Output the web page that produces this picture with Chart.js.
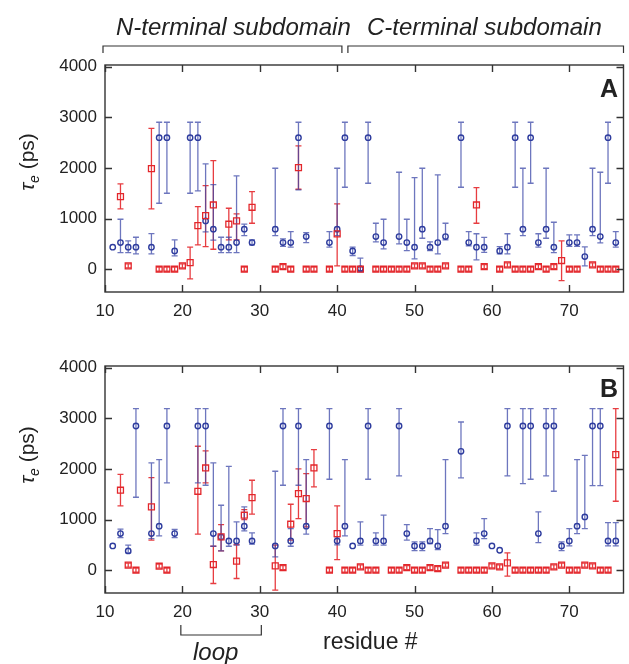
<!DOCTYPE html>
<html>
<head>
<meta charset="utf-8">
<script src="https://cdn.jsdelivr.net/npm/chart.js@4.4.0/dist/chart.umd.min.js"></script>
<style>
  body { margin: 0; background: #fff; }
  #wrap { position: relative; width: 629px; height: 664px; font-family: "Liberation Sans", Arial, sans-serif; color: #222; }
  .box { position: absolute; left: 0; width: 629px; }
  .lbl { position: absolute; white-space: nowrap; line-height: 1; }
  .ytitle { font-size: 21px; transform: translate(-50%, -50%) rotate(-90deg); }
  .ytitle sub { font-size: 14px; font-style: italic; vertical-align: -5px; }
  .panel { font-size: 25px; font-weight: bold; }
</style>
</head>
<body>
<div id="wrap">
  <div class="box" style="top:0;height:330px"><canvas id="chartA"></canvas></div>
  <div class="box" style="top:330px;height:334px"><canvas id="chartB"></canvas></div>

  <div class="lbl" style="left:116px;top:15px;font-size:24px;font-style:italic">N-terminal subdomain</div>
  <div class="lbl" style="left:367px;top:15px;font-size:24px;font-style:italic">C-terminal subdomain</div>
  <div class="lbl ytitle" style="left:28px;top:162px"><i>τ</i><sub>e</sub> (ps)</div>
  <div class="lbl ytitle" style="left:28px;top:455px"><i>τ</i><sub>e</sub> (ps)</div>
  <div class="lbl panel" style="left:600px;top:76px">A</div>
  <div class="lbl panel" style="left:600px;top:376px">B</div>
  <div class="lbl" style="left:193px;top:640px;font-size:24px;font-style:italic">loop</div>
  <div class="lbl" style="left:323px;top:630px;font-size:23px">residue #</div>
</div>

<script>
// axis ticks
const xTicks = [10, 20, 30, 40, 50, 60, 70];
const yTicks = [0, 1000, 2000, 3000, 4000];

// residue ranges of the annotations
const nDomain = [10, 41];
const cDomain = [41, 77];
const loopRange = [19.8, 30.2];

// panel A, blue circles
const aBlueRes = [11, 12, 13, 14, 16, 17, 18, 19, 21, 22, 23, 24, 25, 26, 27, 28, 29, 32, 33, 34, 35, 36, 39, 40, 41, 42, 43, 44, 45, 46, 48, 49, 50, 51, 52, 53, 54, 56, 57, 58, 59, 61, 62, 63, 64, 65, 66, 67, 68, 70, 71, 72, 73, 74, 75, 76];
const aBlueVal = [434, 525, 434, 434, 434, 2596, 2596, 361, 2596, 2596, 953, 789, 434, 434, 525, 789, 525, 789, 525, 525, 2596, 643, 525, 789, 2596, 361, 13, 2596, 643, 525, 643, 525, 434, 789, 434, 525, 643, 2596, 525, 434, 434, 361, 434, 2596, 789, 2596, 525, 789, 434, 525, 525, 249, 789, 643, 2596, 525];
const aBlueLo  = [434, 327, 327, 302, 302, 1302, 1499, 262, 1499, 1544, 736, 572, 327, 327, 327, 663, 480, 663, 450, 437, 1564, 525, 437, 663, 1617, 270, -50, 1696, 538, 400, 499, 367, 203, 611, 368, 302, 578, 1617, 460, 184, 334, 302, 302, 1617, 663, 1696, 437, 611, 327, 450, 450, 65, 663, 518, 1696, 437];
const aBlueHi  = [434, 986, 558, 631, 703, 2900, 2900, 578, 2900, 2900, 2077, 1669, 631, 631, 1840, 888, 580, 1992, 600, 742, 2900, 723, 742, 1992, 2900, 437, 217, 2900, 907, 986, 1913, 986, 1807, 1992, 538, 1860, 907, 2900, 742, 700, 630, 447, 700, 2900, 1992, 2900, 700, 1992, 927, 676, 676, 441, 1992, 1913, 2900, 742];

// panel A, red squares
const aRedRes = [12, 13, 16, 17, 18, 19, 20, 21, 22, 23, 24, 26, 27, 28, 29, 32, 33, 34, 35, 36, 37, 39, 40, 41, 42, 43, 45, 46, 47, 48, 49, 50, 51, 52, 53, 54, 56, 57, 58, 59, 61, 62, 63, 64, 65, 66, 67, 68, 69, 70, 71, 73, 74, 75, 76];
const aRedVal = [1432, 65, 1984, 0, 0, 0, 65, 131, 861, 1058, 1268, 888, 953, 0, 1222, 0, 52, 0, 2004, 0, 0, 0, 696, 0, 0, 0, 0, 0, 0, 0, 0, 65, 65, 0, 0, 65, 0, 0, 1268, 52, 0, 85, 0, 0, 0, 52, 0, 52, 171, 0, 0, 85, 0, 0, 0];
const aRedLo  = [1189, 25, 1189, -40, -40, -40, 25, -191, 480, 447, 394, 578, 578, -40, 907, -40, 12, -40, 1578, -40, -40, -40, 65, -40, -40, -40, -40, -40, -40, -40, -40, 25, 25, -40, -40, 25, -40, -40, 907, 12, -40, 45, -40, -40, -40, 12, -40, 12, -224, -40, -40, 45, -40, -40, -40];
const aRedHi  = [1682, 105, 2781, 40, 40, 40, 105, 434, 1236, 1650, 2143, 1203, 1091, 40, 1531, 40, 92, 40, 2432, 40, 40, 40, 1288, 40, 40, 40, 40, 40, 40, 40, 40, 105, 105, 40, 40, 105, 40, 40, 1610, 92, 40, 125, 40, 40, 40, 92, 40, 92, 558, 40, 40, 125, 40, 40, 40];

// panel B, blue circles
const bBlueRes = [11, 12, 13, 14, 16, 17, 18, 19, 22, 23, 24, 25, 26, 27, 28, 29, 32, 33, 34, 35, 36, 39, 40, 41, 42, 43, 44, 45, 46, 48, 49, 50, 51, 52, 53, 54, 56, 58, 59, 60, 61, 62, 64, 65, 66, 67, 68, 69, 70, 71, 72, 73, 74, 75, 76];
const bBlueVal = [480, 723, 381, 2846, 723, 868, 2846, 723, 2846, 2846, 723, 657, 578, 578, 868, 578, 480, 2846, 578, 2846, 868, 2846, 578, 868, 480, 578, 2846, 578, 578, 2846, 723, 480, 480, 578, 480, 868, 2347, 578, 723, 480, 394, 2846, 2846, 2846, 723, 2846, 2846, 480, 578, 868, 1052, 2846, 2846, 578, 578];
const bBlueLo  = [480, 644, 342, 1440, 625, 677, 1722, 644, 1722, 1677, 473, 381, 473, 493, 776, 513, 263, 1677, 473, 1677, 710, 1795, 500, 677, 480, 493, 1795, 493, 493, 1860, 592, 388, 388, 526, 407, 723, 1821, 493, 625, 480, 394, 1860, 1709, 1795, 546, 1860, 1558, 388, 480, 723, 822, 1670, 1670, 480, 480];
const bBlueHi  = [480, 809, 493, 3189, 2117, 2183, 3189, 803, 3189, 3189, 2117, 1282, 2051, 953, 1249, 736, 1953, 3189, 822, 3189, 2183, 3189, 660, 2183, 480, 953, 3189, 736, 1085, 3189, 901, 559, 559, 822, 802, 2183, 2925, 736, 1019, 480, 394, 3189, 3189, 3189, 1150, 3189, 3189, 559, 822, 2183, 2268, 3189, 3189, 940, 940];

// panel B, red squares
const bRedRes = [12, 13, 14, 16, 17, 18, 22, 23, 24, 25, 27, 28, 29, 32, 33, 34, 35, 36, 37, 39, 40, 41, 42, 43, 44, 45, 47, 48, 49, 50, 51, 52, 53, 54, 56, 57, 58, 59, 60, 61, 62, 63, 64, 65, 66, 67, 68, 69, 70, 71, 72, 73, 74, 75, 76];
const bRedVal = [1578, 99, 0, 1249, 79, 0, 1558, 2018, 112, 657, 178, 1085, 1433, 85, 52, 907, 1512, 1414, 2018, 0, 723, 0, 0, 66, 0, 0, 0, 0, 52, 0, 0, 52, 33, 99, 0, 0, 0, 0, 85, 66, 145, 0, 0, 0, 0, 0, 66, 99, 0, 0, 99, 85, 0, 0, 2282];
const bRedLo  = [1269, 59, -40, 592, 39, -40, 710, 1722, -263, 381, -164, 1000, 1105, -394, 12, 592, 1019, 854, 1643, -40, 210, -40, -40, 26, -40, -40, -40, -40, 12, -40, -40, 12, -7, 59, -40, -40, -40, -40, 45, 26, -118, -40, -40, -40, -40, -40, 26, 59, -40, -40, 59, 45, -40, -40, 1361];
const bRedHi  = [1893, 139, 40, 1828, 119, 40, 2446, 2353, 473, 901, 507, 1197, 1775, 493, 92, 1302, 1999, 1907, 2380, 40, 1269, 40, 40, 106, 40, 40, 40, 40, 92, 40, 40, 92, 73, 139, 40, 40, 40, 40, 125, 106, 342, 40, 40, 40, 40, 40, 106, 139, 40, 40, 139, 125, 40, 40, 3189];

const BLUE = '#2e3c9e';
const BLUE_BAR = 'rgba(60, 72, 168, 0.75)';
const RED = '#e3262b';
const RED_BAR = 'rgba(228, 40, 44, 0.9)';

function toPoints(res, val, lo, hi) {
  return res.map((r, i) => ({ x: r, y: val[i], lo: lo[i], hi: hi[i] }));
}

// draws the vertical error bars with caps under the markers
const errorBars = {
  id: 'errorBars',
  beforeDatasetsDraw(chart) {
    const { ctx, scales: { x, y } } = chart;
    ctx.save();
    ctx.beginPath();
    ctx.rect(chart.chartArea.left, chart.chartArea.top, chart.chartArea.width, chart.chartArea.height);
    ctx.clip();
    chart.data.datasets.forEach(ds => {
      ctx.strokeStyle = ds.barColor;
      ctx.lineWidth = 1.3;
      ds.data.forEach(p => {
        if (p.lo === p.hi) return;
        const px = x.getPixelForValue(p.x);
        const top = y.getPixelForValue(p.hi);
        const bot = y.getPixelForValue(p.lo);
        ctx.beginPath();
        ctx.moveTo(px, top); ctx.lineTo(px, bot);
        ctx.moveTo(px - 3, top); ctx.lineTo(px + 3, top);
        ctx.moveTo(px - 3, bot); ctx.lineTo(px + 3, bot);
        ctx.stroke();
      });
    });
    ctx.restore();
  }
};

// full box with inward ticks on all four sides
const frame = {
  id: 'frame',
  afterDatasetsDraw(chart) {
    const { ctx, chartArea: a, scales: { x, y } } = chart;
    ctx.save();
    ctx.strokeStyle = '#333';
    ctx.lineWidth = 1.4;
    ctx.strokeRect(a.left, a.top, a.width, a.height);
    ctx.beginPath();
    xTicks.forEach(v => {
      const px = Math.round(x.getPixelForValue(v)) + 0.5;
      ctx.moveTo(px, a.top); ctx.lineTo(px, a.top + 7);
      ctx.moveTo(px, a.bottom); ctx.lineTo(px, a.bottom - 7);
    });
    yTicks.forEach(v => {
      const py = Math.round(y.getPixelForValue(v)) + 0.5;
      ctx.moveTo(a.left, py); ctx.lineTo(a.left + 7, py);
      ctx.moveTo(a.right, py); ctx.lineTo(a.right - 7, py);
    });
    ctx.stroke();
    ctx.restore();
  }
};

// brackets above panel A and below panel B
const brackets = {
  id: 'brackets',
  afterDraw(chart, args, opts) {
    if (!opts.items) return;
    const { ctx, scales: { x } } = chart;
    ctx.save();
    ctx.strokeStyle = '#333';
    ctx.lineWidth = 1.2;
    opts.items.forEach(b => {
      const x0 = x.getPixelForValue(b.from) + b.gap0;
      const x1 = x.getPixelForValue(b.to) + b.gap1;
      ctx.beginPath();
      ctx.moveTo(x0, b.tip); ctx.lineTo(x0, b.y); ctx.lineTo(x1, b.y); ctx.lineTo(x1, b.tip);
      ctx.stroke();
    });
    ctx.restore();
  }
};

function makeChart(id, blue, red, xHeight, padTop, bracketItems) {
  return new Chart(document.getElementById(id), {
    type: 'scatter',
    data: {
      datasets: [
        {
          data: red,
          barColor: RED_BAR,
          pointStyle: 'rect',
          pointRadius: 4.2,
          borderColor: RED,
          backgroundColor: 'rgba(0,0,0,0)',
          borderWidth: 1.3
        },
        {
          data: blue,
          barColor: BLUE_BAR,
          pointStyle: 'circle',
          pointRadius: 2.7,
          borderColor: BLUE,
          backgroundColor: 'rgba(0,0,0,0)',
          borderWidth: 1.4
        }
      ]
    },
    options: {
      responsive: true,
      maintainAspectRatio: false,
      animation: false,
      layout: { padding: { top: padTop, right: 2, left: 0, bottom: 0 } },
      plugins: {
        legend: { display: false },
        tooltip: { enabled: false },
        brackets: { items: bracketItems }
      },
      scales: {
        x: {
          type: 'linear',
          min: 10,
          max: 77,
          afterBuildTicks: s => { s.ticks = xTicks.map(v => ({ value: v })); },
          afterFit: s => { s.height = xHeight; },
          grid: { display: false, drawTicks: false },
          border: { display: false },
          ticks: { padding: 9, color: '#222', font: { family: 'Liberation Sans', size: 17 }, callback: v => String(v) }
        },
        y: {
          min: -450,
          max: 4030,
          afterBuildTicks: s => { s.ticks = yTicks.map(v => ({ value: v })); },
          afterFit: s => { s.width = 105; },
          grid: { display: false, drawTicks: false },
          border: { display: false },
          ticks: { padding: 8, color: '#222', font: { family: 'Liberation Sans', size: 17 }, callback: v => String(v) }
        }
      }
    },
    plugins: [errorBars, frame, brackets]
  });
}

makeChart('chartA',
  toPoints(aBlueRes, aBlueVal, aBlueLo, aBlueHi),
  toPoints(aRedRes, aRedVal, aRedLo, aRedHi),
  38, 65,
  [
    { from: nDomain[0], to: nDomain[1], gap0: -2, gap1: -3, y: 46, tip: 53 },
    { from: cDomain[0], to: cDomain[1], gap0: 3, gap1: 0, y: 46, tip: 53 }
  ]);

makeChart('chartB',
  toPoints(bBlueRes, bBlueVal, bBlueLo, bBlueHi),
  toPoints(bRedRes, bRedVal, bRedLo, bRedHi),
  71, 36,
  [
    { from: loopRange[0], to: loopRange[1], gap0: 0, gap1: 0, y: 305, tip: 295 }
  ]);
</script>
</body>
</html>
